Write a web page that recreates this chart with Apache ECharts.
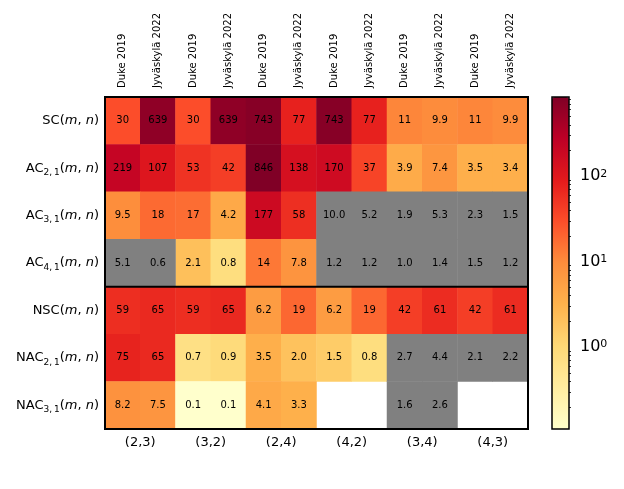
<!DOCTYPE html>
<html>
<head>
<meta charset="utf-8">
<script src="https://cdn.jsdelivr.net/npm/echarts@6/dist/echarts.min.js"></script>
<style>
html, body { margin: 0; padding: 0; background: #fff; }
#main { width: 624px; height: 489px; }
</style>
</head>
<body>
<div id="main"></div>
<script>
// columns (top labels) and pair labels (bottom)
var columns = ['Duke 2019', 'Jyväskylä 2022', 'Duke 2019', 'Jyväskylä 2022',
    'Duke 2019', 'Jyväskylä 2022', 'Duke 2019', 'Jyväskylä 2022',
    'Duke 2019', 'Jyväskylä 2022', 'Duke 2019', 'Jyväskylä 2022'];
var pairs = ['(2,3)', '(3,2)', '(2,4)', '(4,2)', '(3,4)', '(4,3)'];

// rows
var rowNames = ['SC', 'AC', 'AC', 'AC', 'NSC', 'NAC', 'NAC'];
var rowSubs = ['', '2,\u20091', '3,\u20091', '4,\u20091', '', '2,\u20091', '3,\u20091'];

// cell values, null = no data (white)
var values = [
    [30, 639, 30, 639, 743, 77, 743, 77, 11, 9.9, 11, 9.9],
    [219, 107, 53, 42, 846, 138, 170, 37, 3.9, 7.4, 3.5, 3.4],
    [9.5, 18, 17, 4.2, 177, 58, 10.0, 5.2, 1.9, 5.3, 2.3, 1.5],
    [5.1, 0.6, 2.1, 0.8, 14, 7.8, 1.2, 1.2, 1.0, 1.4, 1.5, 1.2],
    [59, 65, 59, 65, 6.2, 19, 6.2, 19, 42, 61, 42, 61],
    [75, 65, 0.7, 0.9, 3.5, 2.0, 1.5, 0.8, 2.7, 4.4, 2.1, 2.2],
    [8.2, 7.5, 0.1, 0.1, 4.1, 3.3, null, null, 1.6, 2.6, null, null]
];
// 1 = grey cell
var greyMask = [
    [0, 0, 0, 0, 0, 0, 0, 0, 0, 0, 0, 0],
    [0, 0, 0, 0, 0, 0, 0, 0, 0, 0, 0, 0],
    [0, 0, 0, 0, 0, 0, 1, 1, 1, 1, 1, 1],
    [1, 1, 0, 0, 0, 0, 1, 1, 1, 1, 1, 1],
    [0, 0, 0, 0, 0, 0, 0, 0, 0, 0, 0, 0],
    [0, 0, 0, 0, 0, 0, 0, 0, 1, 1, 1, 1],
    [0, 0, 0, 0, 0, 0, 0, 0, 1, 1, 0, 0]
];

var colorMin = 0.11, colorMax = 846;
var majorTicks = [0, 1, 2];
var minorTicks = [];
for (var e = -1; e <= 2; e++) {
    for (var k = 2; k <= 9; k++) {
        var t = Math.log10(k * Math.pow(10, e));
        if (t > Math.log10(colorMin) && t < Math.log10(colorMax)) minorTicks.push(t);
    }
}

var ylorrd = ['#ffffcc', '#ffeda0', '#fed976', '#feb24c', '#fd8d3c',
    '#fc4e2a', '#e31a1c', '#bd0026', '#800026'];

var colorData = [], greyData = [];
values.forEach(function (row, r) {
    row.forEach(function (v, c) {
        if (v == null) return;
        if (greyMask[r][c]) greyData.push([c, r, v]);
        else colorData.push([c, r, Math.log10(Math.max(v, colorMin)), v]);
    });
});

var font = 'DejaVu Sans';
var gLeft = 105, gTop = 97, gWidth = 423, gHeight = 332;

var chart = echarts.init(document.getElementById('main'));
var option = {
    animation: false,
    textStyle: { fontFamily: font, color: '#000' },
    grid: [
        { left: gLeft, top: gTop, width: gWidth, height: gHeight, show: true, z: 10,
          backgroundColor: 'rgba(0,0,0,0)', borderColor: '#000', borderWidth: 2 },
        { left: 552, top: gTop, width: 17, height: gHeight, show: true, z: 10,
          backgroundColor: 'rgba(0,0,0,0)', borderColor: '#000', borderWidth: 1.5 },
        { left: gLeft, top: gTop, width: gWidth, height: gHeight * 4 / 7, show: true, z: 10,
          backgroundColor: 'rgba(0,0,0,0)', borderColor: '#000', borderWidth: 2 }
    ],
    xAxis: [
        {
            type: 'category', gridIndex: 0, position: 'top', data: columns,
            axisLine: { show: false }, axisTick: { show: false }, splitLine: { show: false },
            axisLabel: { rotate: -90, fontSize: 10, color: '#000', margin: 9, fontFamily: font,
                padding: [5, 0, 0, 0] }
        },
        {
            type: 'category', gridIndex: 0, position: 'bottom', data: pairs,
            axisLine: { show: false }, axisTick: { show: false }, splitLine: { show: false },
            axisLabel: { fontSize: 13, color: '#000', margin: 7, fontFamily: font }
        },
        { type: 'value', gridIndex: 1, show: false },
        { type: 'value', gridIndex: 2, show: false }
    ],
    yAxis: [
        {
            type: 'category', gridIndex: 0, inverse: true,
            data: rowNames.map(function (n, i) { return n + rowSubs[i]; }),
            axisLine: { show: false }, axisTick: { show: false }, splitLine: { show: false },
            axisLabel: {
                fontSize: 13, color: '#000', margin: 6, fontFamily: font, lineHeight: 18,
                formatter: function (v, i) {
                    var s = rowNames[i];
                    if (rowSubs[i]) s += '{sub|' + rowSubs[i] + '}';
                    return s + '({it|m}, {it|n})';
                },
                rich: {
                    it: { fontStyle: 'italic', fontSize: 13, color: '#000', fontFamily: font, lineHeight: 18 },
                    sub: { fontSize: 9, color: '#000', fontFamily: font, verticalAlign: 'bottom', lineHeight: 18 }
                }
            }
        },
        {
            type: 'value', gridIndex: 1, position: 'right',
            min: Math.log10(colorMin), max: Math.log10(colorMax),
            axisLine: { show: false }, splitLine: { show: false },
            axisTick: { show: true, length: 4, customValues: majorTicks, lineStyle: { color: '#000', width: 1 } },
            axisLabel: {
                show: true, customValues: majorTicks, margin: 11, fontSize: 16, color: '#000', fontFamily: font,
                formatter: function (v) { return '10{sup|' + Math.round(v) + '}'; },
                rich: { sup: { fontSize: 11, color: '#000', fontFamily: font, verticalAlign: 'top', lineHeight: 16 } }
            }
        },
        {
            type: 'value', gridIndex: 1, position: 'right',
            min: Math.log10(colorMin), max: Math.log10(colorMax),
            axisLine: { show: false }, splitLine: { show: false },
            axisTick: { show: true, length: 2, customValues: minorTicks, lineStyle: { color: '#000', width: 0.8 } },
            axisLabel: { show: false }
        },
        { type: 'value', gridIndex: 2, show: false }
    ],
    visualMap: {
        type: 'continuous', seriesIndex: 0, dimension: 2,
        min: Math.log10(colorMin), max: Math.log10(colorMax),
        calculable: false, hoverLink: false, realtime: false,
        left: 552, top: gTop, itemWidth: 17, itemHeight: gHeight, padding: 0,
        inRange: { color: ylorrd }
    },
    series: [
        {
            type: 'heatmap', xAxisIndex: 0, yAxisIndex: 0, data: colorData,
            itemStyle: { borderWidth: 0 },
            emphasis: { disabled: true },
            label: {
                show: true, fontSize: 10, color: '#000', fontFamily: font,
                formatter: function (p) {
                    var v = p.value[3];
                    return v >= 10 ? v.toFixed(0) : v.toFixed(1);
                }
            }
        },
        {
            type: 'heatmap', xAxisIndex: 0, yAxisIndex: 0, data: greyData,
            itemStyle: { color: '#808080', borderWidth: 0 },
            emphasis: { disabled: true },
            label: {
                show: true, fontSize: 10, color: '#000', fontFamily: font,
                formatter: function (p) { return p.value[2].toFixed(1); }
            }
        }
    ]
};
chart.setOption(option);
</script>
</body>
</html>
